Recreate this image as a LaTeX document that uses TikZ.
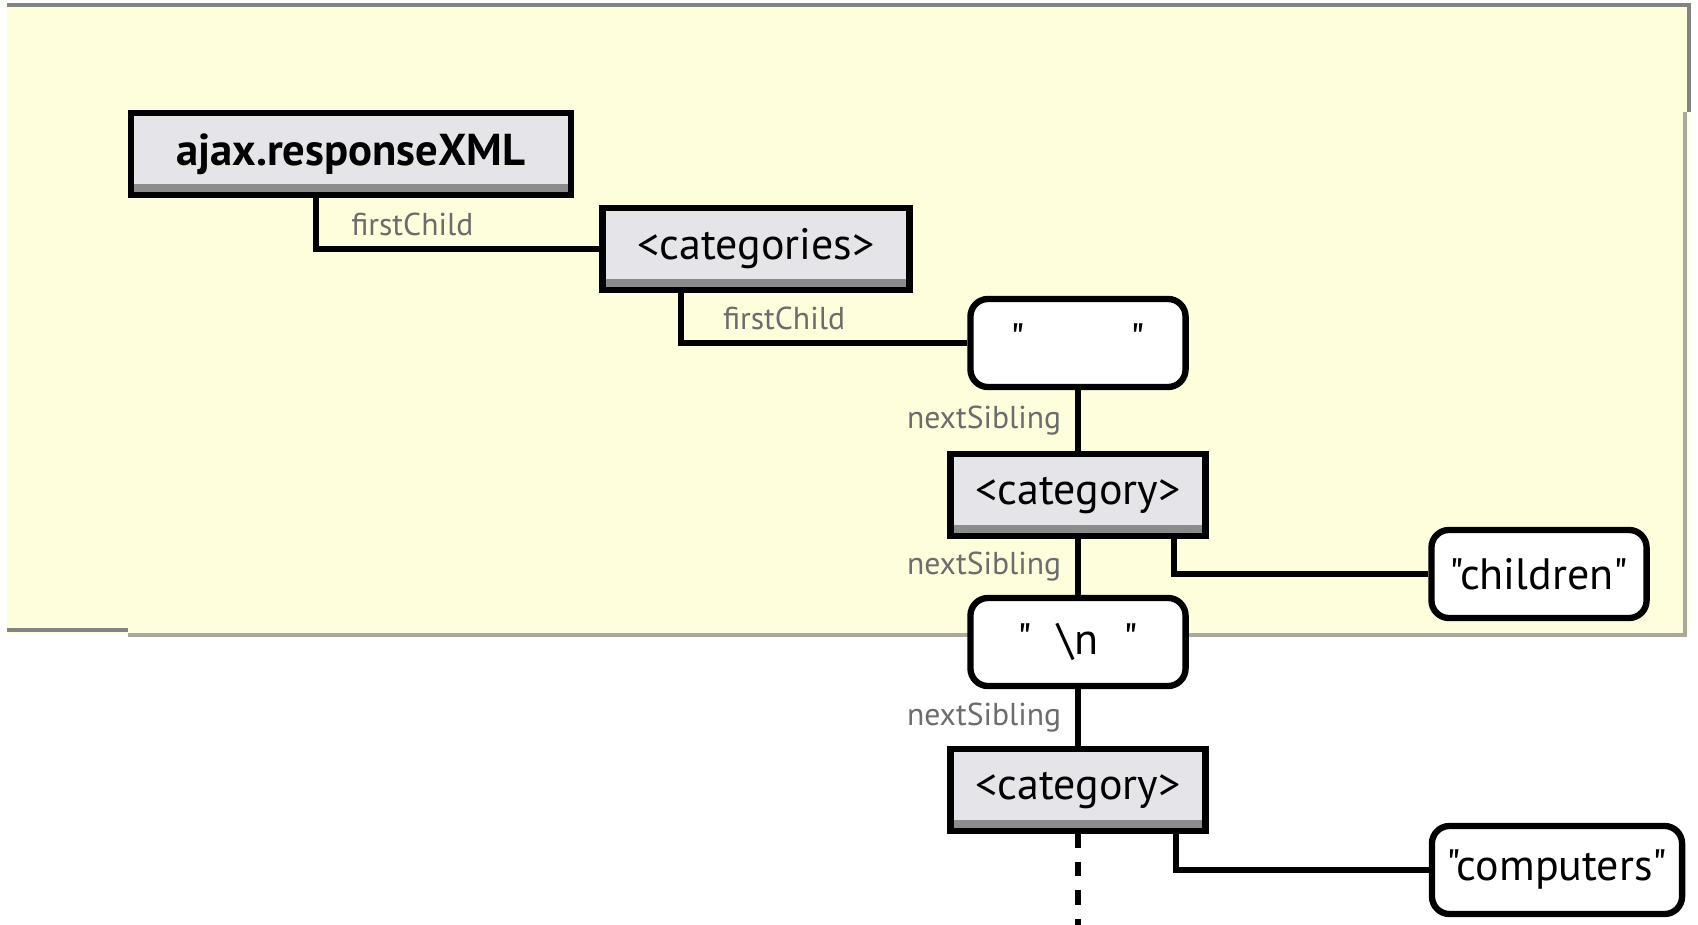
\documentclass[tikz,border=0pt]{standalone}
\usepackage{fontspec}
\setmainfont{PT Sans}[Ligatures=TeXOff]
\usetikzlibrary{positioning,calc}
\definecolor{Paper}{HTML}{FFFEDC}
\definecolor{Frame}{HTML}{838383}
\definecolor{Shade}{HTML}{A9A9A1}
\definecolor{Box}{HTML}{E5E5E9}
\definecolor{Band}{HTML}{8C8C8C}
\definecolor{Label}{HTML}{6C6C6C}

\begin{document}
\begin{tikzpicture}[x=0.01cm,y=-0.01cm,
    elem/.style={draw,line width=1.8pt,fill=Box,minimum height=8.2mm,inner sep=0pt,font=\fontsize{12.5}{14}\selectfont,
      path picture={\fill[Band] (path picture bounding box.south west) rectangle ([yshift=1.1mm]path picture bounding box.south east);}},
    txt/.style={draw,line width=1.8pt,fill=white,rounded corners=5pt,minimum width=2.15cm,minimum height=8.8mm,inner sep=0pt,font=\fontsize{12.5}{14}\selectfont},
    link/.style={line width=1.6pt},
    lbl/.style={font=\fontsize{9}{11}\selectfont,text=Label,inner sep=1pt}]
    \useasboundingbox (0,0) rectangle (1698,925);
    % paper panel behind the upper part
    \fill[Paper] (7,5) rectangle (1689,634);
    \draw[Frame,line width=1pt] (7,5) -- (1689,5) -- (1689,112);
    \draw[Frame,line width=1pt] (7,630) -- (128,630);
    \draw[Shade,line width=1.3pt] (1685,112) -- (1685,635) -- (128,635);
    % element and text nodes
    \node[elem,minimum width=4.4cm,font=\fontsize{12.7}{14}\selectfont\bfseries] (xml) at (351,154) {ajax.responseXML};
    \node[elem,minimum width=3.07cm] (cats) at (756,249) {<categories>};
    \node[txt] (ws1) at (1078,343) {\raisebox{2pt}{"\hspace{1.05cm}"}};
    \node[elem,minimum width=2.55cm] (cat1) at (1078,495) {<category>};
    \node[txt] (ws2) at (1078,642) {"\hspace{2.5mm}\textbackslash n\hspace{2.5mm}"};
    \node[elem,minimum width=2.55cm] (cat2) at (1078,790) {<category>};
    \node[txt] (children) at (1539,574) {"children"};
    \node[txt,minimum width=2.5cm] (computers) at (1557,870) {"computers"};
    \coordinate (tail) at (1078,925);
    % links between them
    \draw[link] ([xshift=-3.5mm]xml.south) |- (cats.west) node[lbl,pos=0.67,above=2pt] {firstChild};
    \draw[link] ([xshift=-7.5mm]cats.south) |- (ws1.west) node[lbl,pos=0.68,above=2pt] {firstChild};
    \draw[link] (ws1) -- (cat1) node[lbl,midway,left=3pt] {nextSibling};
    \draw[link] (cat1) -- (ws2) node[lbl,midway,left=3pt] {nextSibling};
    \draw[link] (ws2) -- (cat2) node[lbl,midway,left=3pt] {nextSibling};
    \draw[link] ([xshift=9.6mm]cat1.south) |- (children.west);
    \draw[link] ([xshift=9.8mm]cat2.south) |- (computers.west);
    \draw[link,dash pattern=on 4pt off 4pt] (cat2.south) -- (tail);
\end{tikzpicture}
\end{document}
